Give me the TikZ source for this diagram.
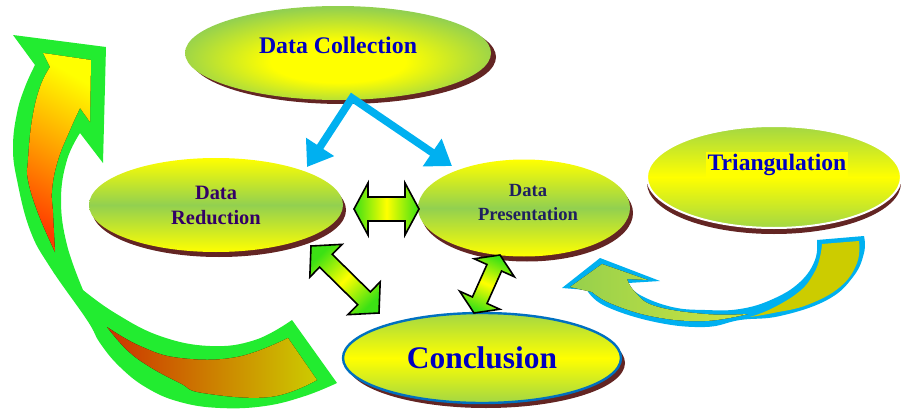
\documentclass[tikz,border=0pt]{standalone}
\usepackage{fontspec}
\setmainfont{Liberation Serif}
\usetikzlibrary{arrows.meta,positioning,calc,shapes.geometric,shadows}
\definecolor{lgreen}{RGB}{146,208,80}
\definecolor{lyellow}{RGB}{255,255,0}
\definecolor{sbrown}{RGB}{99,37,35}
\definecolor{tblue}{RGB}{0,0,192}
\definecolor{tpurple}{RGB}{51,0,102}
\definecolor{tnavy}{RGB}{31,32,96}
\definecolor{cyanline}{RGB}{0,176,240}
\definecolor{limeline}{RGB}{34,236,48}
\definecolor{limefill}{RGB}{60,225,20}
\definecolor{conline}{RGB}{0,112,192}
\definecolor{olive}{RGB}{204,204,0}
\definecolor{rust}{RGB}{204,51,0}
\definecolor{flame}{RGB}{255,60,0}
\definecolor{amber}{RGB}{255,160,0}
\definecolor{leaf}{RGB}{150,208,76}
\definecolor{lime}{RGB}{205,228,64}
\pgfdeclareradialshading{dcglow}{\pgfpoint{0bp}{-6bp}}{color(0bp)=(lyellow); color(11bp)=(lyellow); color(27bp)=(lgreen); color(50bp)=(lgreen)}
\tikzset{
  blob/.style={ellipse, inner sep=0pt, align=center},
  radfill/.style={shading=dcglow},
  bandfill/.style={top color=lyellow, bottom color=lyellow, middle color=lgreen},
  glowfill/.style={top color=lgreen!85!lyellow, bottom color=lgreen!85!lyellow, middle color=lyellow},
  feed/.style={{Triangle[length=12pt,width=16pt]}-{Triangle[length=12pt,width=16pt]}, cyanline, line width=3.8pt, line join=miter},
  linkarrow/.style={draw=black, line width=0.8pt, line join=miter, top color=limefill, bottom color=limefill, middle color=lyellow},
}
% block double arrow: from, to, head length, head half width, shaft half width, shading angle
\newcommand{\blockarrow}[6]{%
  \coordinate (ba) at ($(#1)!#3!(#2)$);
  \coordinate (bb) at ($(#2)!#3!(#1)$);
  \draw[linkarrow, shading angle=#6] (#1) -- ($(ba)!#4!90:(#2)$) -- ($(ba)!#5!90:(#2)$)
    -- ($(bb)!#5!90:(#2)$) -- ($(bb)!#4!90:(#2)$) -- (#2) -- ($(bb)!#4!-90:(#2)$)
    -- ($(bb)!#5!-90:(#2)$) -- ($(ba)!#5!-90:(#2)$) -- ($(ba)!#4!-90:(#2)$) -- cycle;
}

\begin{document}
\begin{tikzpicture}[x=0.5pt,y=-0.5pt]
  \useasboundingbox (0,0) rectangle (901,412);
  % big cycle arrow on the left
  \fill[limeline] (13,35) -- (106,47) -- (103,163) -- (80,133)
    -- plot[smooth, tension=0.7] coordinates {(80,133) (67,160) (61,200) (67,245) (83,290)}
    -- plot[smooth, tension=0.7] coordinates {(83,290) (115,313) (160,336) (210,346) (255,340) (292,320)}
    -- (337,383)
    -- plot[smooth, tension=0.7] coordinates {(337,383) (305,396) (265,406) (220,408) (180,402) (147,388) (120,367) (100,343) (87,320) (50,267) (30,230) (17,180) (13,147) (17,113) (25,87) (35,65)}
    -- cycle;
  \fill[top color=lyellow, bottom color=flame, middle color=amber, shading angle=-30]
    (43,53) -- (91,60) -- (90,122) -- (80,108)
    -- plot[smooth, tension=0.7] coordinates {(80,108) (70,130) (58,160) (52,190) (53,213) (55,252)}
    -- plot[smooth, tension=0.7] coordinates {(55,252) (38,213) (28,180) (28,160) (32,120) (40,87) (50,67)}
    -- cycle;
  \fill[left color=rust, right color=olive]
    plot[smooth, tension=0.7] coordinates {(107,327) (140,346) (180,358) (237,357) (288,338)}
    -- (317,380)
    -- plot[smooth, tension=0.7] coordinates {(317,380) (270,397) (203,393) (180,383) (150,367) (127,350) (107,327)}
    -- cycle;
  % feedback arrow from triangulation
  \fill[cyanline] (600,258) -- (660,281) -- (628,283)
    -- plot[smooth, tension=0.7] coordinates {(628,283) (640,295) (672,307) (705,310) (740,309) (773,299) (800,282) (815,260) (817,240)}
    -- (864,236)
    -- plot[smooth, tension=0.7] coordinates {(864,236) (864,253) (853,277) (827,300) (780,316) (740,320) (705,327) (655,322) (605,306) (587,290)}
    -- (562,288) -- cycle;
  \fill[left color=leaf, right color=lime]
    (602,264) -- (648,280) -- (627,279)
    -- plot[smooth, tension=0.7] coordinates {(627,279) (635,292) (655,306) (705,314) (748,314)}
    -- plot[smooth, tension=0.7] coordinates {(748,314) (705,321) (655,317) (612,304) (592,292)}
    -- (570,287) -- cycle;
  \fill[olive] (822,244) -- (859,241)
    -- plot[smooth, tension=0.7] coordinates {(859,241) (857,263) (840,287) (807,305) (773,313) (750,317)}
    -- plot[smooth, tension=0.7] coordinates {(750,317) (773,308) (800,291) (814,273) (820,257) (822,244)}
    -- cycle;

  % stages
  \node[blob, radfill, minimum width=153pt, minimum height=47pt,
    drop shadow={shadow xshift=2.5pt, shadow yshift=-2pt, fill=sbrown, opacity=1}] (dc) at (338,53) {};
  \node[text=tblue, font=\bfseries\fontsize{11.9}{14}\selectfont] (dc-text) at ([yshift=4pt]dc.center) {Data Collection};
  \node[blob, bandfill, minimum width=127pt, minimum height=47pt, text=tpurple,
    font=\bfseries\fontsize{10.2}{12.5}\selectfont,
    drop shadow={shadow xshift=1.5pt, shadow yshift=-2.5pt, fill=sbrown, opacity=1}] (dr) at (216,205) {Data\\Reduction};
  \node[blob, bandfill, minimum width=106pt, minimum height=48.5pt,
    drop shadow={shadow xshift=1.5pt, shadow yshift=-2.5pt, fill=sbrown, opacity=1}] (dp) at (524,208) {};
  \node[align=center, text=tnavy, font=\bfseries\fontsize{9.3}{12}\selectfont] (dp-text)
    at ([xshift=2pt,yshift=3pt]dp.center) {Data\\Presentation};
  \node[blob, glowfill, draw=white, line width=1pt, minimum width=127pt, minimum height=51pt,
    drop shadow={shadow xshift=0pt, shadow yshift=-3pt, fill=sbrown, opacity=1}] (tri) at (774,177) {};
  \node[fill=lyellow, inner sep=1pt, text=tblue, font=\bfseries\fontsize{11.8}{14}\selectfont] (tri-text)
    at ([xshift=1.5pt,yshift=6pt]tri.center) {Triangulation};
  \node[blob, glowfill, draw=conline, line width=1.2pt, minimum width=139pt, minimum height=45pt, text=tblue,
    font=\bfseries\fontsize{15.7}{18}\selectfont,
    drop shadow={shadow xshift=2pt, shadow yshift=-2.5pt, fill=sbrown, opacity=1}] (con) at (482,358) {Conclusion};

  % arrows
  \coordinate (dc-out) at (352,98);
  \coordinate (dr-in) at (307,167);
  \coordinate (dp-in) at (452,166);
  \draw[feed] (dr-in) -- (dc-out) -- (dp-in);
  \coordinate (dr-east) at (354,209);
  \coordinate (dp-west) at (419,209);
  \coordinate (dr-low) at (311,246);
  \coordinate (con-nw) at (379,313);
  \coordinate (dp-low) at (500,255);
  \coordinate (con-ne) at (474,313);
  \blockarrow{dr-east}{dp-west}{7pt}{13pt}{6pt}{90}
  \blockarrow{dr-low}{con-nw}{10.5pt}{11.5pt}{4.5pt}{-135}
  \blockarrow{dp-low}{con-ne}{7pt}{11pt}{4pt}{-204}
\end{tikzpicture}
\end{document}
